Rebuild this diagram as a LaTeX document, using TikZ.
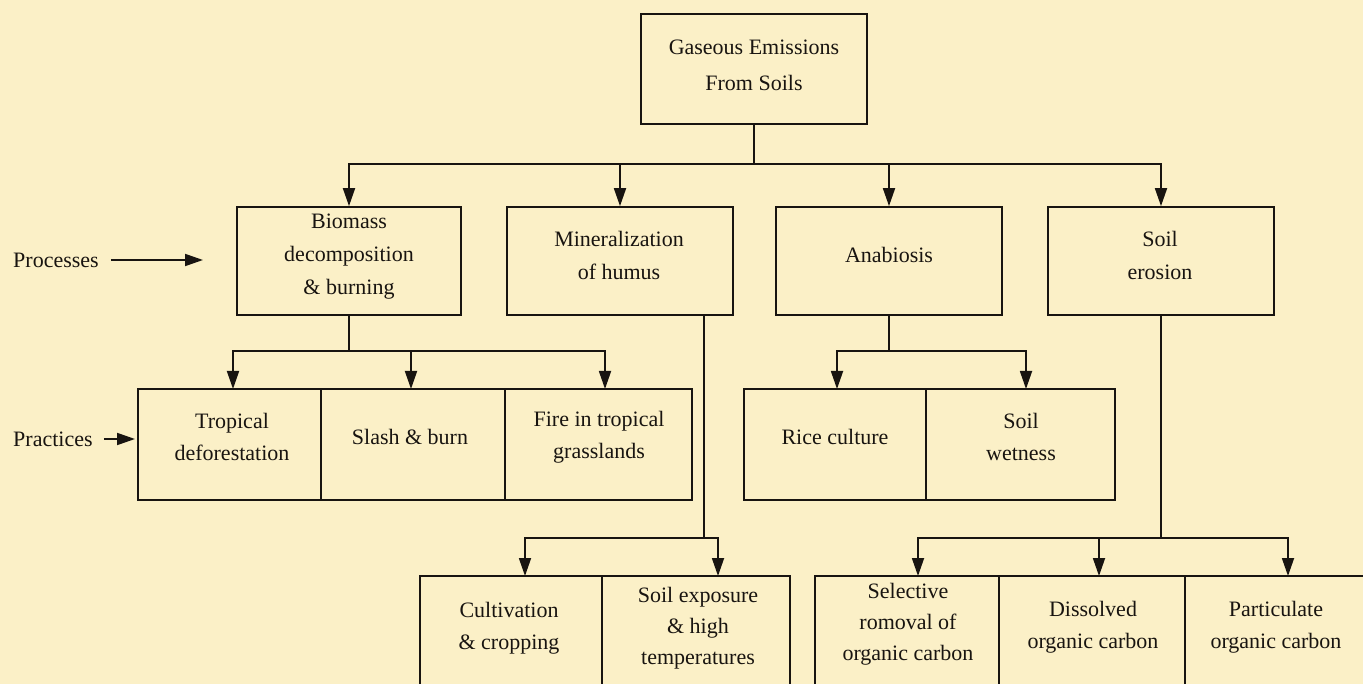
\documentclass[tikz,border=0pt]{standalone}
\usepackage{fontspec}
\setmainfont{Liberation Serif}
\usetikzlibrary{arrows.meta}
\definecolor{paper}{RGB}{251,240,199}
\definecolor{ink}{RGB}{24,20,16}
\begin{document}
\begin{tikzpicture}[x=1pt,y=-1pt,
  bx/.style={draw=ink, line width=1.7pt, inner sep=0pt, anchor=center},
  txt/.style={align=center, font=\fontsize{22}{32}\selectfont, text=ink, inner sep=0pt},
  con/.style={draw=ink, line width=1.8pt},
  arr/.style={con, -{Triangle[length=18pt,width=12pt]}}]
\useasboundingbox (0,0) rectangle (1363,684);
\fill[paper] (0,0) rectangle (1363,684);
\clip (0,0) rectangle (1363,684);

% top
\node[bx, minimum width=226, minimum height=110] (top) at (754,69) {};
\node[txt, font=\fontsize{22}{36}\selectfont] (topT) at (754,65) {Gaseous Emissions\\From Soils};

% processes
\node[bx, minimum width=224, minimum height=108] (bio) at (349,261) {};
\node[bx, minimum width=226, minimum height=108] (min) at (620,261) {};
\node[bx, minimum width=226, minimum height=108] (ana) at (889,261) {};
\node[bx, minimum width=226, minimum height=108] (ero) at (1161,261) {};
\node[txt, font=\fontsize{22}{33}\selectfont] (bioT) at (349,257) {Biomass\\decomposition\\\& burning};
\node[txt, font=\fontsize{22}{33}\selectfont] (minT) at (619,255) {Mineralization\\of humus};
\node[txt] (anaT) at (889,255) {Anabiosis};
\node[txt, font=\fontsize{22}{33}\selectfont] (eroT) at (1160,255) {Soil\\erosion};

% practices row
\node[bx, minimum width=183, minimum height=111] (trop) at (229.5,444.5) {};
\node[bx, minimum width=184, minimum height=111] (slash) at (413,444.5) {};
\node[bx, minimum width=187, minimum height=111] (fire) at (598.5,444.5) {};
\node[txt] (tropT) at (232,437) {Tropical\\deforestation};
\node[txt] (slashT) at (410,437) {Slash \& burn};
\node[txt] (fireT) at (599,437) {Fire in tropical\\grasslands};

\node[bx, minimum width=182, minimum height=111] (rice) at (835,444.5) {};
\node[bx, minimum width=189, minimum height=111] (wet) at (1020.5,444.5) {};
\node[txt] (riceT) at (835,437) {Rice culture};
\node[txt] (wetT) at (1021,437) {Soil\\wetness};

% bottom row
\node[bx, minimum width=182, minimum height=140] (cult) at (511,646) {};
\node[bx, minimum width=188, minimum height=140] (soil) at (696,646) {};
\node[txt] (cultT) at (509,628) {Cultivation\\\& cropping};
\node[txt, font=\fontsize{22}{31}\selectfont] (soilT) at (698,628) {Soil exposure\\\& high\\temperatures};

\node[bx, minimum width=184, minimum height=140] (sel) at (907,646) {};
\node[bx, minimum width=186, minimum height=140] (dis) at (1092,646) {};
\node[bx, minimum width=190, minimum height=140] (part) at (1280,646) {};
\node[txt, font=\fontsize{22}{31}\selectfont] (selT) at (908,624) {Selective\\romoval of\\organic carbon};
\node[txt] (disT) at (1093,627) {Dissolved\\organic carbon};
\node[txt] (partT) at (1276,627) {Particulate\\organic carbon};

% side labels
\node[txt, anchor=west] (procL) at (13,260) {Processes};
\node[txt, anchor=west] (pracL) at (13,439) {Practices};
\coordinate (procA) at (203,260);
\coordinate (pracA) at (135,439);
\draw[arr] ([xshift=12pt]procL.east) -- (procA);
\draw[arr] ([xshift=11pt]pracL.east) -- (pracA);

% junctions and targets
\coordinate (j0) at (754,164);
\coordinate (j1) at (349,351);
\coordinate (pa1) at (233,389);
\coordinate (pa2) at (411,389);
\coordinate (pa3) at (605,389);
\coordinate (minOut) at (704,315);
\coordinate (j2) at (704,538);
\coordinate (ca1) at (525,576);
\coordinate (ca2) at (718,576);
\coordinate (j3) at (889,351);
\coordinate (ra1) at (837,389);
\coordinate (ra2) at (1026,389);
\coordinate (j4) at (1161,538);
\coordinate (ea1) at (918,576);
\coordinate (ea2) at (1099,576);
\coordinate (ea3) at (1288,576);

\draw[con] (top.south) -- (j0);
\draw[arr] (j0) -| (bio.north);
\draw[arr] (j0) -| (min.north);
\draw[arr] (j0) -| (ana.north);
\draw[arr] (j0) -| (ero.north);

\draw[con] (bio.south) -- (j1);
\draw[arr] (j1) -| (pa1);
\draw[arr] (j1) -| (pa2);
\draw[arr] (j1) -| (pa3);

\draw[con] (minOut) -- (j2);
\draw[arr] (j2) -| (ca1);
\draw[arr] (j2) -| (ca2);

\draw[con] (ana.south) -- (j3);
\draw[arr] (j3) -| (ra1);
\draw[arr] (j3) -| (ra2);

\draw[con] (ero.south) -- (j4);
\draw[arr] (j4) -| (ea1);
\draw[arr] (j4) -| (ea2);
\draw[arr] (j4) -| (ea3);
\end{tikzpicture}
\end{document}
